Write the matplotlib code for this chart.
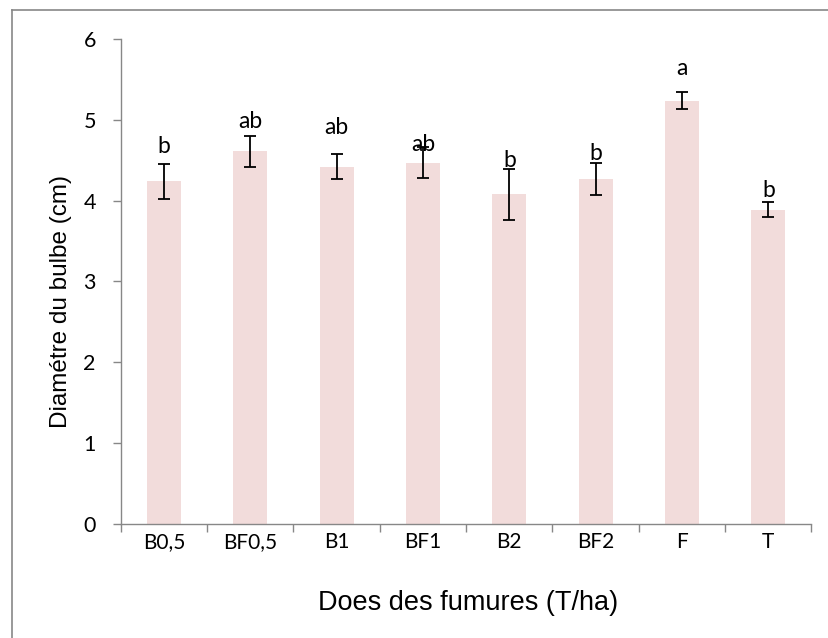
import matplotlib
matplotlib.use("Agg")
import matplotlib.pyplot as plt
from matplotlib.lines import Line2D
import numpy as np

categories = ["B0,5", "BF0,5", "B1", "BF1", "B2", "BF2", "F", "T"]
means = [4.24, 4.61, 4.42, 4.47, 4.08, 4.27, 5.24, 3.89]
errors = [0.22, 0.19, 0.155, 0.19, 0.315, 0.195, 0.105, 0.097]
letters = ["b", "ab", "ab", "ab", "b", "b", "a", "b"]
letter_heights = [4.59, 4.90, 4.83, 4.62, 4.42, 4.50, 5.56, 4.04]
y_ticks = [0, 1, 2, 3, 4, 5, 6]

W, H = 829, 638
fig = plt.figure(figsize=(W / 100, H / 100), dpi=100)
ax = fig.add_axes([120.8 / W, 1 - 523.5 / H, (811.5 - 120.8) / W, (523.5 - 39.3) / H])

x = np.arange(len(categories))
ax.bar(x, means, width=0.394, color="#F2DCDB", edgecolor="none", zorder=2)
ax.errorbar(x, means, yerr=errors, fmt="none", ecolor="black",
            elinewidth=1.3, capsize=4.3, capthick=1.3, zorder=3)

for xi, lab, yh in zip(x, letters, letter_heights):
    ax.text(xi, yh, lab, ha="center", va="baseline", fontsize=16.5,
            family="Lato", color="black", zorder=4)

ax.set_xlim(-0.5, len(categories) - 0.5)
ax.set_ylim(0, 6)
ax.set_yticks(y_ticks)
ax.set_yticklabels([str(v) for v in y_ticks], family="Lato", fontsize=15.5)

ax.set_xticks(x)
ax.set_xticklabels(categories, family="Lato", fontsize=15)
ax.set_xticks(np.arange(-0.5, len(categories), 1.0), minor=True)
ax.tick_params(axis="x", which="major", length=0, pad=6)
ax.tick_params(axis="x", which="minor", length=6, width=1.0, color="#878787", direction="out")
ax.tick_params(axis="y", which="major", length=6, width=1.0, color="#878787", direction="out", pad=12)

for s in ["top", "right"]:
    ax.spines[s].set_visible(False)
for s in ["left", "bottom"]:
    ax.spines[s].set_color("#878787")
    ax.spines[s].set_linewidth(1.0)

fig.text(61 / W, 1 - 301 / H, "Diamétre du bulbe (cm)", rotation=90,
         ha="center", va="center", fontsize=17.5, family="Liberation Sans")
fig.text(468 / W, 1 - 603 / H, "Does des fumures (T/ha)",
         ha="center", va="center", fontsize=19.5, family="Liberation Sans")

# outer chart frame (only left and top edges fall inside the image)
fig.add_artist(Line2D([12 / W, 12 / W], [1 - 9.5 / H, 0], transform=fig.transFigure,
                      color="#878787", lw=1.2))
fig.add_artist(Line2D([12 / W, 1], [1 - 9.5 / H, 1 - 9.5 / H], transform=fig.transFigure,
                      color="#878787", lw=1.2))

fig.savefig("out.png", dpi=100, facecolor="white")
